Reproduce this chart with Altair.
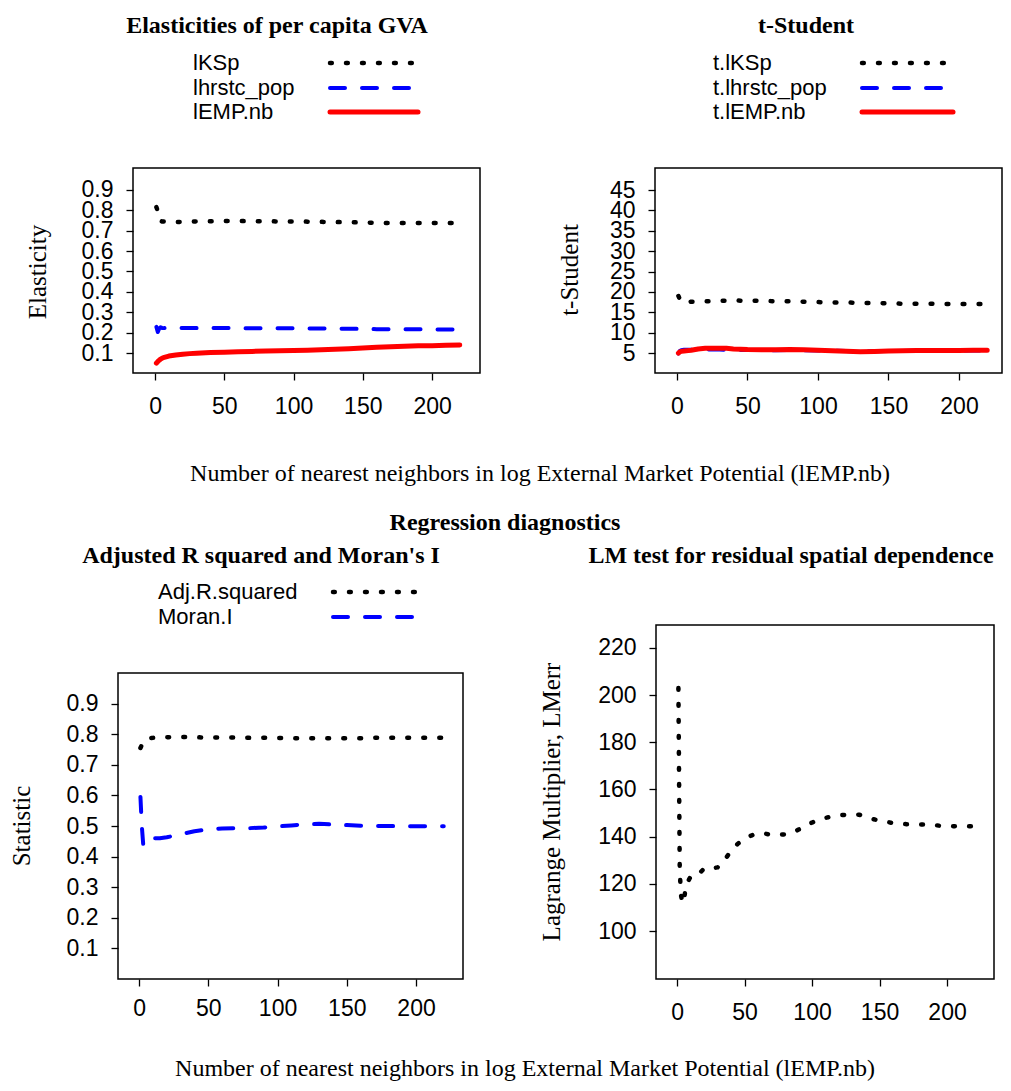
import altair as alt
import pandas as pd

# ---------------- data ----------------
A_x = [1, 2, 3, 4, 5, 6, 8, 10, 15, 20, 25, 30, 40, 50, 60, 70, 80, 90, 100, 110, 120, 130, 140, 150, 160, 170, 180, 190, 200, 210, 220]
A_lKSp = [0.815, 0.795, 0.755, 0.748, 0.745, 0.745, 0.744, 0.743, 0.742, 0.743, 0.744, 0.745, 0.746, 0.747, 0.747, 0.746,
          0.746, 0.745, 0.745, 0.744, 0.743, 0.742, 0.741, 0.740, 0.738, 0.737, 0.737, 0.737, 0.737, 0.737, 0.737]
A_lhrstc = [0.228, 0.203, 0.220, 0.226, 0.223, 0.222, 0.223, 0.223, 0.223, 0.223, 0.223, 0.222, 0.222, 0.222, 0.222, 0.221,
            0.221, 0.221, 0.221, 0.220, 0.220, 0.219, 0.219, 0.218, 0.217, 0.217, 0.216, 0.216, 0.216, 0.215, 0.215]
A_lEMP = [0.050, 0.058, 0.065, 0.070, 0.074, 0.077, 0.081, 0.085, 0.090, 0.094, 0.097, 0.099, 0.102, 0.104, 0.106, 0.108,
          0.110, 0.111, 0.112, 0.114, 0.116, 0.118, 0.121, 0.125, 0.128, 0.131, 0.133, 0.135, 0.136, 0.138, 0.139]

B_x = [1, 2, 3, 5, 8, 10, 15, 20, 25, 30, 35, 40, 50, 60, 70, 80, 90, 100, 110, 120, 130, 140, 150, 160, 170, 180, 190, 200, 210, 220]
B_tKSp = [19.0, 18.2, 17.6, 17.4, 17.5, 17.6, 17.6, 17.7, 17.7, 17.8, 17.8, 17.9, 17.8, 17.8, 17.7, 17.7, 17.6, 17.5,
          17.4, 17.4, 17.3, 17.3, 17.2, 17.1, 17.1, 17.1, 17.0, 17.0, 17.0, 17.0]
B_thrstc = [4.9, 5.5, 5.7, 5.8, 5.8, 5.8, 5.8, 5.85, 5.85, 5.85, 5.8, 5.8, 5.75, 5.7, 5.7, 5.75, 5.7, 5.65,
            5.55, 5.5, 5.4, 5.45, 5.5, 5.5, 5.55, 5.55, 5.55, 5.6, 5.6, 5.6]
B_tEMP = [5.0, 5.3, 5.4, 5.5, 5.6, 5.7, 6.0, 6.15, 6.2, 6.2, 6.15, 6.0, 5.85, 5.8, 5.8, 5.85, 5.8, 5.7,
          5.55, 5.45, 5.3, 5.4, 5.5, 5.55, 5.6, 5.6, 5.65, 5.65, 5.7, 5.7]

C_x = [1, 2, 3, 4, 5, 6, 8, 10, 15, 20, 25, 30, 35, 40, 50, 60, 70, 80, 90, 100, 110, 120, 130, 140, 150, 160, 170, 180, 190, 200, 210, 220]
C_adjr = [0.755, 0.765, 0.775, 0.780, 0.783, 0.785, 0.787, 0.788, 0.789, 0.790, 0.791, 0.791, 0.791, 0.790, 0.789, 0.789,
          0.789, 0.788, 0.788, 0.788, 0.787, 0.787, 0.787, 0.787, 0.787, 0.787, 0.788, 0.788, 0.788, 0.788, 0.788, 0.788]
C_moran = [0.595, 0.500, 0.440, 0.435, 0.445, 0.453, 0.458, 0.460, 0.460, 0.463, 0.468, 0.473, 0.478, 0.483, 0.489, 0.492,
           0.493, 0.493, 0.495, 0.499, 0.502, 0.505, 0.507, 0.505, 0.503, 0.501, 0.500, 0.500, 0.499, 0.499, 0.499, 0.499]

D_x = [1, 2, 3, 4, 5, 6, 8, 10, 15, 20, 25, 30, 35, 40, 45, 50, 55, 60, 65, 70, 75, 80, 85, 90, 95, 100, 105, 110, 115, 120,
       125, 130, 135, 140, 145, 150, 155, 160, 165, 170, 175, 180, 185, 190, 195, 200, 205, 210, 215, 220]
D_lm = [203, 125, 115, 112, 112, 117, 121, 123, 123.5, 126.5, 126.5, 127, 130, 134, 137, 139, 140.5, 141.5, 141.3, 140.8,
        140.8, 141, 141.5, 143, 144.5, 146, 147, 148, 148.5, 149, 149.3, 149.5, 149.3, 148.5, 147.5, 146.8, 146.3, 145.8,
        145.5, 145.3, 145.3, 145.2, 145.2, 145, 144.6, 144.5, 144.4, 144.5, 144.4, 144.4]

X_TICKS = [0, 50, 100, 150, 200]
A_YTICKS = [0.1, 0.2, 0.3, 0.4, 0.5, 0.6, 0.7, 0.8, 0.9]
B_YTICKS = [5, 10, 15, 20, 25, 30, 35, 40, 45]
C_YTICKS = [0.1, 0.2, 0.3, 0.4, 0.5, 0.6, 0.7, 0.8, 0.9]
D_YTICKS = [100, 120, 140, 160, 180, 200, 220]

CAPTION = "Number of nearest neighbors in log External Market Potential (lEMP.nb)"

# ---------------- styles ----------------
SERIF = "Liberation Serif"
SANS = "Liberation Sans"
DOT = dict(color="black", strokeWidth=4.5, strokeDash=[1.8, 14.2], strokeCap="round")
DASH = dict(color="#0000FF", strokeWidth=4, strokeDash=[15, 17], strokeCap="round")
SOLID = dict(color="#FF0000", strokeWidth=5, strokeCap="round")
TITLE_SIZE = 24
AXTITLE_SIZE = 25
LEG_SIZE = 22
TICK_SIZE = 23

one = pd.DataFrame({"k": [0]})


def txt(s, x, y, size, font, weight="normal", align="center", baseline="alphabetic", angle=0):
    return alt.Chart(one).mark_text(text=s, font=font, fontSize=size, fontWeight=weight, align=align,
                                    baseline=baseline, angle=angle, color="black").encode(
        x=alt.value(x), y=alt.value(y))


def legline(x1, x2, y, style):
    return alt.Chart(one).mark_rule(**style).encode(x=alt.value(x1), x2=alt.value(x2), y=alt.value(y))


def background(w, h):
    return alt.Chart(one).mark_rect(fill="white", strokeOpacity=0).encode(
        x=alt.value(0), x2=alt.value(w), y=alt.value(0), y2=alt.value(h))


def box(x1, x2, y1, y2):
    return alt.Chart(one).mark_rect(fillOpacity=0, stroke="black", strokeWidth=1.5).encode(
        x=alt.value(x1), x2=alt.value(x2), y=alt.value(y1), y2=alt.value(y2))


def panel(series, W, H, px, py, xdom, ydom, yticks, yfmt, xlabpad, extra):
    # px = (left, right) of plot box, py = (top, bottom) of plot box inside the cell
    X = alt.X("x:Q", scale=alt.Scale(domain=xdom, range=[px[0], px[1]], nice=False, zero=False),
              axis=alt.Axis(values=X_TICKS, title=None, grid=False, domain=False, tickSize=7, tickWidth=1.3,
                            tickColor="black", labelFont=SANS, labelFontSize=TICK_SIZE, labelColor="black",
                            labelPadding=xlabpad, labelFlush=False, labelOverlap=False, format="d",
                            offset=py[1] - H, zindex=2))
    Y = alt.Y("y:Q", scale=alt.Scale(domain=ydom, range=[py[1], py[0]], nice=False, zero=False),
              axis=alt.Axis(values=yticks, title=None, grid=False, domain=False, tickSize=7, tickWidth=1.3,
                            tickColor="black", labelFont=SANS, labelFontSize=TICK_SIZE, labelColor="black",
                            labelPadding=13, labelFlush=False, labelOverlap=False, format=yfmt,
                            offset=-px[0], zindex=2))
    layers = [background(W, H)]
    for xs, ys, style in series:
        df = pd.DataFrame({"x": xs, "y": ys})
        layers.append(alt.Chart(df).mark_line(strokeJoin="round", **style).encode(x=X, y=Y))
    layers.append(box(px[0], px[1], py[0], py[1]))
    return alt.layer(*layers, *extra).properties(width=W, height=H)


# Panel A: Elasticities  (cell origin at page (8, 8))
pA = panel(
    [(A_x, A_lKSp, DOT), (A_x, A_lhrstc, DASH), (A_x, A_lEMP, SOLID)],
    492, 432, (125, 472), (160, 365),
    [-15.9, 234.6], [0.002, 1.007], A_YTICKS, ".1f", 15,
    [
        txt("Elasticities of per capita GVA", 269, 25, TITLE_SIZE, SERIF, "bold"),
        txt("lKSp", 185, 55, LEG_SIZE, SANS, align="left", baseline="middle"),
        txt("lhrstc_pop", 185, 80, LEG_SIZE, SANS, align="left", baseline="middle"),
        txt("lEMP.nb", 185, 104, LEG_SIZE, SANS, align="left", baseline="middle"),
        legline(322, 410, 55, DOT),
        legline(322, 410, 80, DASH),
        legline(322, 410, 104, SOLID),
        txt("Elasticity", 30, 264, AXTITLE_SIZE, SERIF, baseline="middle", angle=270),
    ],
)

# Panel B: t-Student  (cell origin at page (500, 8))
pB = panel(
    [(B_x, B_tKSp, DOT), (B_x, B_thrstc, DASH), (B_x, B_tEMP, SOLID)],
    503, 432, (155, 502), (160, 365),
    [-15.6, 230.5], [0.1, 50.4], B_YTICKS, "d", 15,
    [
        txt("t-Student", 306, 25, TITLE_SIZE, SERIF, "bold"),
        txt("t.lKSp", 213, 55, LEG_SIZE, SANS, align="left", baseline="middle"),
        txt("t.lhrstc_pop", 213, 80, LEG_SIZE, SANS, align="left", baseline="middle"),
        txt("t.lEMP.nb", 213, 104, LEG_SIZE, SANS, align="left", baseline="middle"),
        legline(362, 453, 55, DOT),
        legline(362, 453, 80, DASH),
        legline(362, 453, 104, SOLID),
        txt("t-Student", 70, 262, AXTITLE_SIZE, SERIF, baseline="middle", angle=270),
    ],
)

# Panel C: Adjusted R squared and Moran's I  (cell origin at page (8, 540))
pC = panel(
    [(C_x, C_adjr, DOT), (C_x, C_moran, DASH)],
    492, 508, (110, 455), (133, 439),
    [-15.2, 233.9], [0.0, 1.0], C_YTICKS, ".1f", 11,
    [
        txt("Adjusted R squared and Moran's I", 253, 23, TITLE_SIZE, SERIF, "bold"),
        txt("Adj.R.squared", 150, 52, LEG_SIZE, SANS, align="left", baseline="middle"),
        txt("Moran.I", 150, 77, LEG_SIZE, SANS, align="left", baseline="middle"),
        legline(325, 413, 52, DOT),
        legline(325, 413, 77, DASH),
        txt("Statistic", 14, 286, AXTITLE_SIZE, SERIF, baseline="middle", angle=270),
    ],
)

# Panel D: LM test  (cell origin at page (500, 540))
pD = panel(
    [(D_x, D_lm, DOT)],
    503, 508, (156, 494), (85, 439),
    [-15.6, 234.8], [79.7, 229.7], D_YTICKS, "d", 15,
    [
        txt("LM test for residual spatial dependence", 291, 23, TITLE_SIZE, SERIF, "bold"),
        txt("Lagrange Multiplier, LMerr", 52, 262, AXTITLE_SIZE, SERIF, baseline="middle", angle=270),
    ],
)

# caption rows
mid = alt.layer(
    background(995, 100),
    txt(CAPTION, 532, 41, 24, SERIF),
    txt("Regression diagnostics", 497, 90, TITLE_SIZE, SERIF, "bold"),
).properties(width=995, height=100)

bot = alt.layer(
    background(995, 33),
    txt(CAPTION, 517, 28, 24, SERIF),
).properties(width=995, height=33)

row1 = alt.hconcat(pA, pB, spacing=0)
row2 = alt.hconcat(pC, pD, spacing=0)

chart = (
    alt.vconcat(row1, mid, row2, bot, spacing=0)
    .properties(padding=0, background="white")
    .configure_view(stroke="transparent", strokeWidth=0)
    .configure_concat(spacing=0)
)

chart.save("out.html", embed_options={"renderer": "svg", "actions": False})
